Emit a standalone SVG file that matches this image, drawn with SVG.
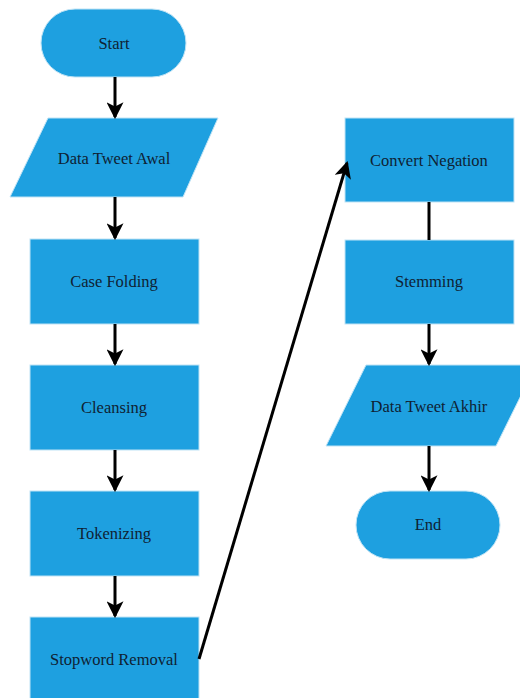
<svg xmlns="http://www.w3.org/2000/svg" width="520" height="698" viewBox="0 0 520 698">
<defs>
<style>
.n{fill:#1ea0e0;stroke:#bfe3f5;stroke-width:1}
.t{font-family:"Liberation Serif","Times New Roman",serif;font-size:16.5px;fill:#0f2233;text-anchor:middle;dominant-baseline:central}
.c{stroke:#000;stroke-width:3;fill:none}
</style>
<marker id="ah" viewBox="0 0 16 16" refX="14" refY="8" markerWidth="17" markerHeight="17" markerUnits="userSpaceOnUse" orient="auto">
<path d="M0,0 L16,8 L0,16 L4,8 Z" fill="#000"/>
</marker>
</defs>
<rect width="520" height="698" fill="#fff"/>
<g id="start"><rect class="n" x="41" y="9" width="145" height="68" rx="34"/><text class="t" x="114" y="43">Start</text></g>
<g id="data-awal"><path class="n" d="M48,118 L218,118 L183,197 L10,197 Z" stroke-linejoin="round"/><text class="t" x="114" y="158">Data Tweet Awal</text></g>
<g id="case-folding"><rect class="n" x="30" y="239" width="169" height="85"/><text class="t" x="114" y="281">Case Folding</text></g>
<g id="cleansing"><rect class="n" x="30" y="365" width="169" height="85"/><text class="t" x="114" y="407">Cleansing</text></g>
<g id="tokenizing"><rect class="n" x="30" y="491" width="169" height="85"/><text class="t" x="114" y="533">Tokenizing</text></g>
<g id="stopword"><rect class="n" x="30" y="617" width="169" height="90"/><text class="t" x="114" y="659">Stopword Removal</text></g>
<g id="convert-negation"><rect class="n" x="345" y="118" width="169" height="84"/><text class="t" x="429" y="160">Convert Negation</text></g>
<g id="stemming"><rect class="n" x="345" y="240" width="169" height="84"/><text class="t" x="429" y="281">Stemming</text></g>
<g id="data-akhir"><path class="n" d="M366,365 L536,365 L496,446 L326,446 Z" stroke-linejoin="round"/><text class="t" x="429" y="406">Data Tweet Akhir</text></g>
<g id="end"><rect class="n" x="356" y="491" width="144" height="68" rx="34"/><text class="t" x="428" y="524">End</text></g>
<g id="connectors">
<line class="c" x1="115" y1="77" x2="115" y2="117" marker-end="url(#ah)"/>
<line class="c" x1="115" y1="197" x2="115" y2="238" marker-end="url(#ah)"/>
<line class="c" x1="115" y1="324" x2="115" y2="364" marker-end="url(#ah)"/>
<line class="c" x1="115" y1="450" x2="115" y2="490" marker-end="url(#ah)"/>
<line class="c" x1="115" y1="576" x2="115" y2="616" marker-end="url(#ah)"/>
<line class="c" x1="199" y1="659" x2="347" y2="163" marker-end="url(#ah)"/>
<line class="c" x1="429" y1="202" x2="429" y2="240"/>
<line class="c" x1="429" y1="324" x2="429" y2="364" marker-end="url(#ah)"/>
<line class="c" x1="429" y1="446" x2="429" y2="490" marker-end="url(#ah)"/>
</g>
</svg>
